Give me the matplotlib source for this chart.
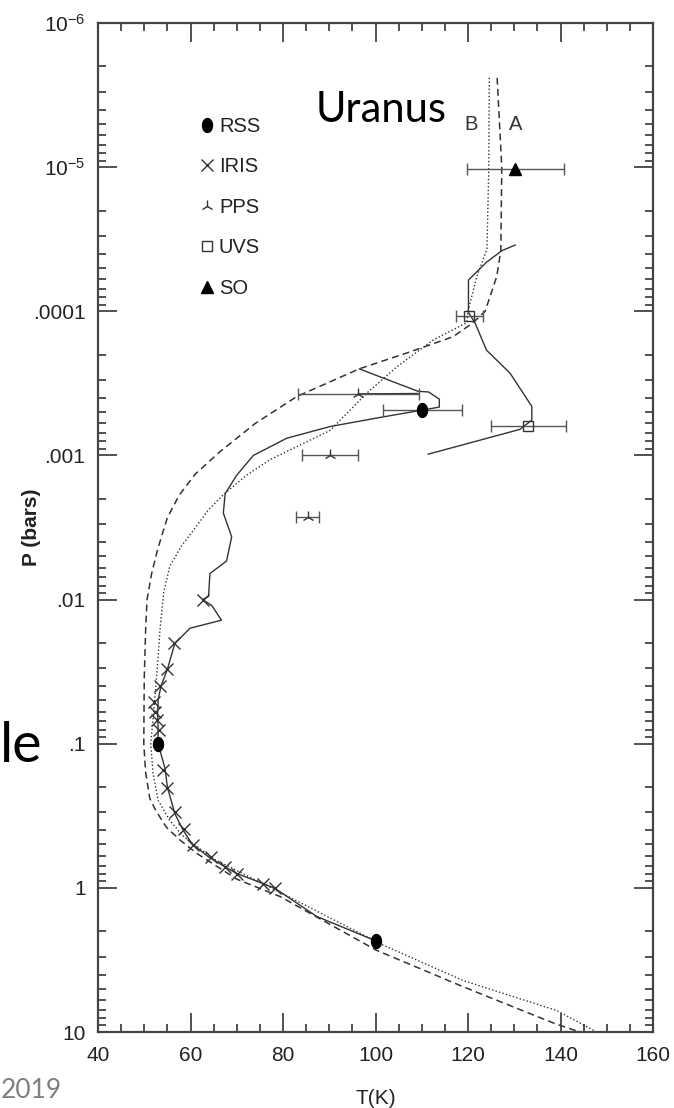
import numpy as np
import matplotlib
matplotlib.use("Agg")
import matplotlib.pyplot as plt
from matplotlib.path import Path
from matplotlib.ticker import MultipleLocator, FixedLocator, FixedFormatter, LogLocator, NullFormatter

plt.rcParams['font.family'] = ['Liberation Sans', 'DejaVu Sans']
plt.rcParams['mathtext.fontset'] = 'custom'
plt.rcParams['mathtext.rm'] = 'Liberation Sans'
plt.rcParams['mathtext.it'] = 'Liberation Sans:italic'
plt.rcParams['mathtext.bf'] = 'Liberation Sans:bold'

# model profile A (dashed)
model_a_T = [126.3, 127.3, 127.1, 126.2, 123.7, 121.1, 116.8, 106.7, 96.6, 83.0, 74.0, 66.4,
             61.0, 57.5, 55.0, 52.9, 51.6, 50.6, 50.3, 50.0, 49.9, 50.3, 51.2, 52.6, 54.8,
             57.8, 61.3, 70.0, 79.4, 100.2, 119.0, 138.8, 144.2]
model_a_P = [2.4e-6, 1.0e-5, 3.8e-5, 5.75e-5, 1.0e-4, 1.2e-4, 1.5e-4, 1.95e-4, 2.5e-4, 3.9e-4,
             6.0e-4, 9.4e-4, 1.35e-3, 1.9e-3, 2.7e-3, 4.47e-3, 6.6e-3, 0.01, 0.0162, 0.035,
             0.1, 0.158, 0.24, 0.295, 0.38, 0.468, 0.575, 0.87, 1.15, 2.71, 4.86, 8.75, 10.0]

# model profile B (dotted)
model_b_T = [124.6, 124.5, 124.1, 121.9, 120.0, 119.7, 112.5, 104.6, 98.1, 90.2, 77.2, 72.0,
             67.2, 63.8, 61.1, 58.0, 55.5, 54.2, 53.4, 53.0, 52.0, 51.4, 51.9, 53.0, 55.5,
             58.5, 65.0, 80.0, 101.7, 119.0, 139.2, 147.8]
model_b_P = [2.4e-6, 1.0e-5, 3.7e-5, 5.75e-5, 1.0e-4, 1.2e-4, 1.58e-4, 2.43e-4, 3.7e-4, 6.7e-4,
             1.07e-3, 1.38e-3, 1.86e-3, 2.4e-3, 3.16e-3, 4.27e-3, 5.9e-3, 8.9e-3, 0.0162,
             0.025, 0.063, 0.1, 0.16, 0.247, 0.34, 0.44, 0.63, 1.1, 2.5, 4.4, 7.1, 10.0]

# retrieved profile from radio occultation + IRIS (solid)
prof_T = [100.2, 87.3, 78.3, 75.7, 70.0, 67.5, 63.9, 60.3, 58.4, 56.6, 55.0, 54.5, 53.0,
          53.0, 52.9, 53.0, 53.6, 55.0, 56.6, 59.9, 66.7, 64.6, 62.6, 63.9, 64.2, 67.8,
          68.9, 67.1, 67.5, 70.0, 73.6, 80.8, 90.2, 101.7, 110.1, 113.8, 113.8, 111.5,
          109.2, 96.5]
prof_P = [2.34, 1.58, 1.01, 0.933, 0.796, 0.716, 0.61, 0.493, 0.398, 0.305, 0.2, 0.149, 0.1,
          0.0794, 0.063, 0.05, 0.04, 0.0305, 0.0202, 0.0158, 0.0139, 0.011, 0.01, 0.0095,
          0.0066, 0.0054, 0.00367, 0.00251, 0.00184, 0.00137, 0.001, 0.00076, 0.00063,
          0.00054, 0.000485, 0.000462, 0.000407, 0.000363, 0.000359, 0.000251]

# short plateau along the PPS bar
plateau_T = [96.3, 109.2]
plateau_P = [3.74e-4, 3.72e-4]

# UVS-derived upper profile (solid)
uvs_prof_T = [130.2, 127.3, 124.0, 120.1, 120.1, 121.5, 124.0, 129.1, 133.8, 133.8, 131.2, 111.4]
uvs_prof_P = [3.47e-5, 3.8e-5, 4.57e-5, 6.07e-5, 1.02e-4, 1.2e-4, 1.86e-4, 2.69e-4, 4.57e-4,
              5.69e-4, 6.6e-4, 9.8e-4]

# individual measurements
rss_T = [110.1, 53.0, 100.2]
rss_P = [4.85e-4, 0.1, 2.34]
rss_err = [8.5, 0.0, 0.0]

iris_T = [62.6, 56.4, 55.0, 53.4, 52.0, 52.3, 52.8, 53.1, 54.1, 54.9, 56.7, 58.6, 60.6, 64.4,
          67.5, 70.0, 75.7, 78.3]
iris_P = [0.01, 0.02, 0.0302, 0.04, 0.051, 0.06, 0.069, 0.08, 0.153, 0.204, 0.3, 0.39, 0.506,
          0.61, 0.716, 0.796, 0.933, 1.01]

pps_T = [96.3, 90.2, 85.3]
pps_P = [3.76e-4, 1.0e-3, 2.69e-3]
pps_err = [13.0, 6.0, 2.4]

uvs_T = [133.0, 120.3]
uvs_P = [6.2e-4, 1.08e-4]
uvs_err = [8.1, 2.9]

so_T = [130.2]
so_P = [1.03e-5]
so_err = [10.5]

ytick_vals = [1e-6, 1e-5, 1e-4, 1e-3, 1e-2, 1e-1, 1, 10]
ytick_labels = ['$10^{-6}$', '$10^{-5}$', '.0001', '.001', '.01', '.1', '1', '10']

ink = '#333333'
bar_col = '#555555'

fig = plt.figure(figsize=(6.74, 11.08), dpi=100)
ax = fig.add_axes([98 / 674, 1 - 1032 / 1108, 555 / 674, 1009 / 1108])

ax.plot(model_a_T, model_a_P, color=ink, lw=1.1, ls=(0, (4.5, 2.8)))
ax.plot(model_b_T, model_b_P, color=ink, lw=1.0, ls=(0, (1.0, 1.6)))
ax.plot(prof_T, prof_P, color=ink, lw=1.0)
ax.plot(plateau_T, plateau_P, color=ink, lw=1.0)
ax.plot(uvs_prof_T, uvs_prof_P, color=ink, lw=1.0)

eb = dict(fmt='none', ecolor=bar_col, elinewidth=1.0, capsize=4.5, capthick=1.0)
ax.errorbar(rss_T, rss_P, xerr=rss_err, **eb)
ax.errorbar(pps_T, pps_P, xerr=pps_err, **eb)
ax.errorbar(uvs_T, uvs_P, xerr=uvs_err, **eb)
ax.errorbar(so_T, so_P, xerr=so_err, **eb)

# RSS points are drawn as upright ellipses
theta = np.linspace(0, 2 * np.pi, 41)
ellipse = Path(np.column_stack([0.72 * np.cos(theta), np.sin(theta)]), closed=True)

ax.plot(iris_T, iris_P, ls='none', marker='x', ms=8, mew=1.0, color=ink, label='IRIS')
ax.plot(rss_T, rss_P, ls='none', marker=ellipse, ms=10, color='black', label='RSS')
ax.plot(pps_T, pps_P, ls='none', marker='2', ms=9, mew=1.0, color=ink, label='PPS')
ax.plot(uvs_T, uvs_P, ls='none', marker='s', ms=7, mew=1.0, mfc='none', mec=ink, label='UVS')
ax.plot(so_T, so_P, ls='none', marker='^', ms=8, color='black', label='SO')

ax.text(120.6, 5.1e-6, 'B', fontsize=14.5, color=ink, ha='center', va='center')
ax.text(130.3, 5.1e-6, 'A', fontsize=14.5, color=ink, ha='center', va='center')

ax.set_xlim(40, 160)
ax.set_yscale('log')
ax.set_ylim(10, 1e-6)

ax.xaxis.set_major_locator(MultipleLocator(20))
ax.xaxis.set_minor_locator(MultipleLocator(5))
ax.yaxis.set_major_locator(FixedLocator(ytick_vals))
ax.yaxis.set_major_formatter(FixedFormatter(ytick_labels))
ax.yaxis.set_minor_locator(LogLocator(base=10, subs=np.arange(2, 10), numticks=20))
ax.yaxis.set_minor_formatter(NullFormatter())
ax.tick_params(which='both', direction='in', top=True, right=True, color=ink, labelsize=15,
               labelcolor='#222222')
ax.tick_params(which='major', length=14, width=1.2)
ax.tick_params(which='minor', length=6, width=1.2)
ax.tick_params(axis='x', pad=10)
ax.tick_params(axis='y', pad=9)
for sp in ax.spines.values():
    sp.set_linewidth(1.6)
    sp.set_color('#444444')

ax.set_xlabel('T(K)', fontsize=15, color='#222222')
ax.xaxis.set_label_coords(0.5, -0.056)
ax.set_ylabel('P (bars)', fontsize=15, fontweight='bold', color='#222222')
ax.yaxis.set_label_coords(-0.103, 0.5)

handles, labels = ax.get_legend_handles_labels()
order = ['RSS', 'IRIS', 'PPS', 'UVS', 'SO']
hmap = dict(zip(labels, handles))
ax.legend([hmap[k] for k in order], order, loc='upper left', bbox_to_anchor=(0.178, 0.907),
          frameon=False, fontsize=14.5, handlelength=1.0, handletextpad=0.1, labelspacing=1.07,
          borderpad=0, borderaxespad=0, numpoints=1, labelcolor='#222222')

# slide text around the figure
fig.text(316 / 674, 1 - 122 / 1108, 'Uranus', family='Lato', fontsize=30, ha='left', va='baseline')
fig.text(42 / 674, 1 - 762 / 1108, 'le', family='Lato', fontsize=40, ha='right', va='baseline')
fig.text(1 / 674, 1 - 1098 / 1108, '2019', family='Lato', fontsize=19, color='#808080',
         ha='left', va='baseline')

fig.savefig('out.png', dpi=100)
